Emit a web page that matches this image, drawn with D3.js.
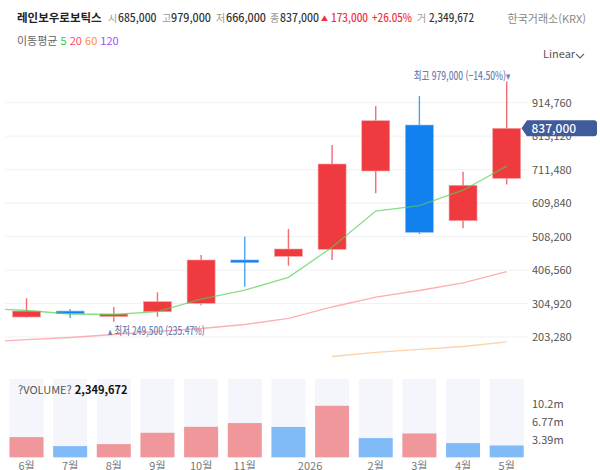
<!DOCTYPE html>
<html lang="ko">
<head>
<meta charset="UTF-8">
<title>레인보우로보틱스 월봉</title>
<script src="https://d3js.org/d3.v7.min.js"></script>
<style>
  body{margin:0;background:#fff;}
  svg{font-family:"Noto Sans CJK KR","Noto Sans",sans-serif;}
  .ylab{font-size:11px;fill:#555;}
  .xlab{font-size:11px;fill:#777;text-anchor:middle;}
  .grid{stroke:#f1f1f3;stroke-width:1;}
  .ann{font-size:11px;fill:#7080b0;font-weight:500;}
</style>
</head>
<body>
<svg id="chart" width="600" height="470"></svg>
<script>
// monthly candles, Jun 2025 .. May 2026
const months = ["6월","7월","8월","9월","10월","11월","12월","1월","2월","3월","4월","5월"];
const xLabels = ["6월","7월","8월","9월","10월","11월","","2026","2월","3월","4월","5월"];
const opens  = [264000, 282000, 266100, 280100, 305600, 437200, 448300, 469600, 707400, 847000, 556400, 685000];
const highs  = [321000, 288300, 294400, 339000, 452300, 507900, 531200, 786300, 904700, 935100, 705200, 979000];
const lows   = [262000, 261000, 249500, 264900, 300000, 356000, 419800, 437100, 639600, 516000, 533400, 666000];
const closes = [282000, 274000, 273100, 310500, 437100, 429200, 470500, 728600, 860100, 521200, 664000, 837000];
const volumes = [3950000, 2230000, 2610000, 4770000, 5910000, 6620000, 5880000, 9920000, 3760000, 4640000, 2800000, 2349672];
const prevVolume = 3000000;

// moving averages, first entry = May 2025 (off the left edge)
const ma5  = [291000, 283700, 273100, 271600, 280100, 318000, 345300, 384600, 475700, 585700, 602500, 649000, 722300];
const ma20 = [188100, 195100, 201800, 210900, 220000, 229100, 241200, 259500, 294400, 324700, 344500, 367300, 401600];
const ma60 = [null, null, null, null, null, null, null, null, 144100, 156300, 165400, 174500, 188200];

const priceTicks = [203280, 304920, 406560, 508200, 609840, 711480, 813120, 914760];
const volTicks = [3390000, 6770000, 10200000];
const volTickLabels = ["3.39m", "6.77m", "10.2m"];

const lastClose = 837000, lastHigh = 979000, lowAll = 249500;

const svg = d3.select("#chart");
const RED = "#ef3a3f", BLUE = "#1380ef";

let x = d3.scaleLinear().domain([0, months.length - 1]).range([26.5, 506.7]);
let y = d3.scaleLinear().domain([203280, 914760]).range([337, 102.7]);
let yv = d3.scaleLinear().domain([0, 10200000]).range([457.8, 404.3]);
const fmt = d3.format(",");

// header
const head = svg.append("g");
head.append("text").attr("x", 17).attr("y", 22).style("font-size", "11.5px")
    .style("font-weight", "700").attr("fill", "#222").text("레인보우로보틱스");
const headItems = [["시", "685,000", 108, 118, 38.5], ["고", "979,000", 162, 171, 40], ["저", "666,000", 216, 226, 40], ["종", "837,000", 270, 280, 39]];
headItems.forEach(function (d) {
    head.append("text").attr("x", d[2]).attr("y", 22).style("font-size", "10px").attr("fill", "#999").text(d[0]);
    head.append("text").attr("x", d[3]).attr("y", 22).style("font-size", "11px").attr("fill", "#333").style("font-weight", 500)
        .attr("textLength", d[4]).attr("lengthAdjust", "spacingAndGlyphs").text(d[1]);
});
head.append("text").attr("x", 321).attr("y", 21).style("font-size", "7px").attr("fill", "#f0303c").text("▲");
head.append("text").attr("x", 331).attr("y", 22).style("font-size", "11px").attr("fill", "#f0303c").style("font-weight", 500)
    .attr("textLength", 37).attr("lengthAdjust", "spacingAndGlyphs").text(fmt(lastClose - closes[10]));
head.append("text").attr("x", 372).attr("y", 22).style("font-size", "11px").attr("fill", "#f0303c").style("font-weight", 500)
    .attr("textLength", 40).attr("lengthAdjust", "spacingAndGlyphs")
    .text("+" + d3.format(".2f")((lastClose / closes[10] - 1) * 100) + "%");
head.append("text").attr("x", 417).attr("y", 22).style("font-size", "10px").attr("fill", "#999").text("거");
head.append("text").attr("x", 429).attr("y", 22).style("font-size", "11px").attr("fill", "#333").style("font-weight", 500)
    .attr("textLength", 45).attr("lengthAdjust", "spacingAndGlyphs").text(fmt(volumes[11]));
head.append("text").attr("x", 586).attr("y", 23).attr("text-anchor", "end").style("font-size", "11px").attr("fill", "#888").text("한국거래소(KRX)");

const maLeg = head.append("text").attr("x", 17).attr("y", 45).style("font-size", "11px");
maLeg.append("tspan").attr("fill", "#666").text("이동평균 ");
[["5", "#3cc83c"], ["20", "#ff4a6a"], ["60", "#ff8f3f"], ["120", "#a04dff"]].forEach(function (d) {
    maLeg.append("tspan").attr("fill", d[1]).text(d[0] + " ");
});

// Linear dropdown
svg.append("text").attr("x", 543).attr("y", 58).style("font-size", "11px").attr("fill", "#555").text("Linear");
svg.append("path").attr("d", "M576,54 L580,58 L584,54").attr("fill", "none").attr("stroke", "#666").attr("stroke-width", 1.1);

// grid + y labels
svg.append("g").selectAll("line").data(priceTicks).join("line").attr("class", "grid")
    .attr("x1", 5).attr("x2", 527).attr("y1", d => y(d)).attr("y2", d => y(d));
svg.append("g").selectAll("text").data(priceTicks).join("text").attr("class", "ylab")
    .attr("x", 532).attr("y", d => y(d) + 4).text(d => fmt(d));

// clip for main plot
svg.append("clipPath").attr("id", "clip").append("rect").attr("x", 5).attr("y", 60).attr("width", 522).attr("height", 318);
const plot = svg.append("g").attr("clip-path", "url(#clip)");

// candles
const idx = d3.range(months.length);
const candle = plot.append("g").selectAll("g").data(idx).join("g");
candle.append("line")
    .attr("x1", i => x(i)).attr("x2", i => x(i))
    .attr("y1", i => y(highs[i])).attr("y2", i => y(lows[i]))
    .attr("stroke", i => closes[i] >= opens[i] ? RED : BLUE).attr("stroke-width", 1.4).attr("stroke-opacity", 0.75);
candle.append("rect")
    .attr("x", i => x(i) - 14).attr("width", 28)
    .attr("y", i => y(Math.max(opens[i], closes[i])))
    .attr("height", i => Math.max(2.5, Math.abs(y(opens[i]) - y(closes[i]))))
    .attr("fill", i => closes[i] >= opens[i] ? RED : BLUE)
    .attr("stroke", i => closes[i] >= opens[i] ? "#f6a3a5" : "#86bdf6").attr("stroke-width", 0.6);

// moving averages
const maLine = d3.line().defined(d => d != null).x((d, i) => x(i - 1)).y(d => y(d));
[[ma60, "#fbbf85"], [ma20, "#ff8d92"], [ma5, "#55cf55"]].forEach(function (m) {
    plot.append("path").datum(m[0]).attr("d", maLine).attr("fill", "none")
        .attr("stroke", m[1]).attr("stroke-width", 1.3).attr("stroke-opacity", 0.7);
});

// high / low annotations
const hiIdx = highs.indexOf(lastHigh), loIdx = lows.indexOf(lowAll);
svg.append("text").attr("class", "ann").attr("x", x(hiIdx) + 4).attr("y", y(lastHigh) - 2).attr("text-anchor", "end")
    .attr("textLength", 97).attr("lengthAdjust", "spacingAndGlyphs")
    .text("최고 " + fmt(lastHigh) + " (" + d3.format(".2f")((lastClose / lastHigh - 1) * 100) + "%)▾");
svg.append("text").attr("class", "ann").attr("x", x(loIdx) - 6).attr("y", y(lowAll) + 13)
    .attr("textLength", 97).attr("lengthAdjust", "spacingAndGlyphs")
    .text("▴ 최저 " + fmt(lowAll) + " (" + d3.format(".2f")((lastClose / lowAll - 1) * 100) + "%)");

// last price badge
const by = y(lastClose);
svg.append("path")
    .attr("d", `M521.5,${by} L527,${by - 8} L594,${by - 8} Q597,${by - 8} 597,${by - 5} L597,${by + 5} Q597,${by + 8} 594,${by + 8} L527,${by + 8} Z`)
    .attr("fill", "#405b9a");
svg.append("text").attr("x", 531.5).attr("y", by + 4.5).style("font-size", "12px").style("font-weight", 500)
    .attr("fill", "#fff").text(fmt(lastClose));

// volume panel
const vol = svg.append("g");
vol.selectAll(".vbg").data(idx).join("rect").attr("class", "vbg")
    .attr("x", i => x(i) - 17).attr("width", 34).attr("y", 379).attr("height", 78.5).attr("fill", "#f5f6fb");
vol.selectAll(".vbar").data(idx).join("rect").attr("class", "vbar")
    .attr("x", i => x(i) - 17).attr("width", 34)
    .attr("y", i => yv(volumes[i])).attr("height", i => yv(0) - yv(volumes[i]) - 0.5)
    .attr("fill", i => volumes[i] >= (i === 0 ? prevVolume : volumes[i - 1]) ? "#f0979b" : "#80bbf8");
vol.selectAll(".vlab").data(volTicks).join("text").attr("class", "ylab")
    .attr("x", 532).attr("y", d => yv(d) + 4).text((d, i) => volTickLabels[i]);
const vt = vol.append("text").attr("x", 18).attr("y", 394).style("font-size", "11px");
vt.append("tspan").attr("fill", "#555").text("?VOLUME? ");
vt.append("tspan").attr("fill", "#111").style("font-weight", 700).text(fmt(volumes[11]));

// x labels (bottom edge cuts them, as in the source)
svg.append("g").selectAll("text").data(idx).join("text").attr("class", "xlab")
    .attr("x", i => xLabels[i] === "2026" ? x(i) - 22 : x(i)).attr("y", 470)
    .text(i => xLabels[i]);
</script>
</body>
</html>
